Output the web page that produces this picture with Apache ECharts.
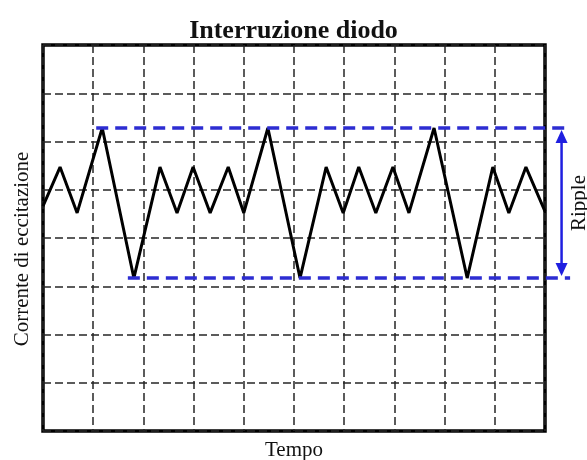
<!DOCTYPE html>
<html><head><meta charset="utf-8">
<script src="https://cdn.jsdelivr.net/npm/echarts@6/dist/echarts.min.js"></script>
<style>html,body{margin:0;padding:0;background:#fff}#c{width:587px;height:460px}</style>
</head><body><div id="c"></div>
<script>
// Waveform (time units: 10 grid divisions, current units: 8 grid divisions)
const timeValues = [0, 0.34, 0.68, 1.18, 1.81, 2.33, 2.67, 2.99, 3.33, 3.69, 4.00, 4.48, 5.12, 5.64, 5.98, 6.29, 6.63, 6.97, 7.29, 7.79, 8.45, 8.96, 9.28, 9.62, 10];
const currentValues = [4.66, 5.47, 4.52, 6.28, 3.17, 5.47, 4.52, 5.47, 4.52, 5.47, 4.52, 6.28, 3.17, 5.47, 4.52, 5.47, 4.52, 5.47, 4.52, 6.28, 3.17, 5.47, 4.52, 5.47, 4.55];
// Ripple annotation
const rippleMax = 6.28;
const rippleMin = 3.17;
const upperLineX = [1.06, 10.5];
const lowerLineX = [1.69, 10.5];
const arrowX = 10.33;
const rippleLabelX = 10.68;
const titleText = 'Interruzione diodo';
const xName = 'Tempo';
const yName = 'Corrente di eccitazione';
const rippleText = 'Ripple';

const serif = '"Liberation Serif", "DejaVu Serif", serif';
const chart = echarts.init(document.getElementById('c'), null, {renderer: 'canvas'});

const wave = timeValues.map((t, i) => [t, currentValues[i]]);
const blue = '#2d2dd2';
const gridLine = {show: true, lineStyle: {type: [8, 4], color: '#262626', width: 1.5}};

chart.setOption({
  backgroundColor: '#fff',
  animation: false,
  title: {text: titleText, left: 'center', top: 13, textStyle: {fontFamily: serif, fontWeight: 'bold', fontSize: 26, color: '#111'}},
  grid: {left: 43, right: 42, top: 45, bottom: 29, containLabel: false, outerBoundsMode: 'none', show: true, borderColor: '#000', borderWidth: 3.5, backgroundColor: 'transparent'},
  xAxis: {type: 'value', min: 0, max: 10, interval: 1, axisLine: {show: false}, axisTick: {show: false}, axisLabel: {show: false}, splitLine: gridLine,
    name: xName, nameLocation: 'middle', nameGap: 9, nameTextStyle: {fontFamily: serif, fontSize: 21, color: '#111'}},
  yAxis: {type: 'value', min: 0, max: 8, interval: 1, axisLine: {show: false}, axisTick: {show: false}, axisLabel: {show: false}, splitLine: gridLine,
    name: yName, nameLocation: 'middle', nameGap: 10, nameTextStyle: {fontFamily: serif, fontSize: 21, color: '#111', padding: [0, 22, 0, 0]}},
  series: [
    {type: 'line', data: wave, symbol: 'none', lineStyle: {color: '#000', width: 3}, z: 4}
  ]
});

const px = (x, y) => chart.convertToPixel({gridIndex: 0}, [x, y]);
const u0 = px(upperLineX[0], rippleMax), u1 = px(upperLineX[1], rippleMax);
const l0 = px(lowerLineX[0], rippleMin), l1 = px(lowerLineX[1], rippleMin);
const aT = px(arrowX, rippleMax), aB = px(arrowX, rippleMin);
const lab = px(rippleLabelX, (rippleMax + rippleMin) / 2);
const dashStyle = {stroke: blue, lineWidth: 3.5, lineDash: [12, 7], fill: null};
const headH = 13, headW = 6;
chart.setOption({
  graphic: [
    {type: 'line', z: 100, shape: {x1: u0[0], y1: u0[1], x2: u1[0], y2: u1[1]}, style: dashStyle},
    {type: 'line', z: 100, shape: {x1: l0[0], y1: l0[1], x2: l1[0], y2: l1[1]}, style: dashStyle},
    {type: 'line', z: 100, shape: {x1: aT[0], y1: aT[1] + headH, x2: aB[0], y2: aB[1] - headH}, style: {stroke: '#1f1fe0', lineWidth: 2.5}},
    {type: 'polygon', z: 100, shape: {points: [[aT[0], aT[1] + 2], [aT[0] - headW, aT[1] + headH + 2], [aT[0] + headW, aT[1] + headH + 2]]}, style: {fill: '#1f1fe0'}},
    {type: 'polygon', z: 100, shape: {points: [[aB[0], aB[1] - 2], [aB[0] - headW, aB[1] - headH - 2], [aB[0] + headW, aB[1] - headH - 2]]}, style: {fill: '#1f1fe0'}},
    {type: 'text', z: 100, x: lab[0], y: lab[1], rotation: Math.PI / 2,
      style: {text: rippleText, fontFamily: serif, fontSize: 21, fill: '#111', align: 'center', verticalAlign: 'middle'}}
  ]
});
</script>
</body></html>
